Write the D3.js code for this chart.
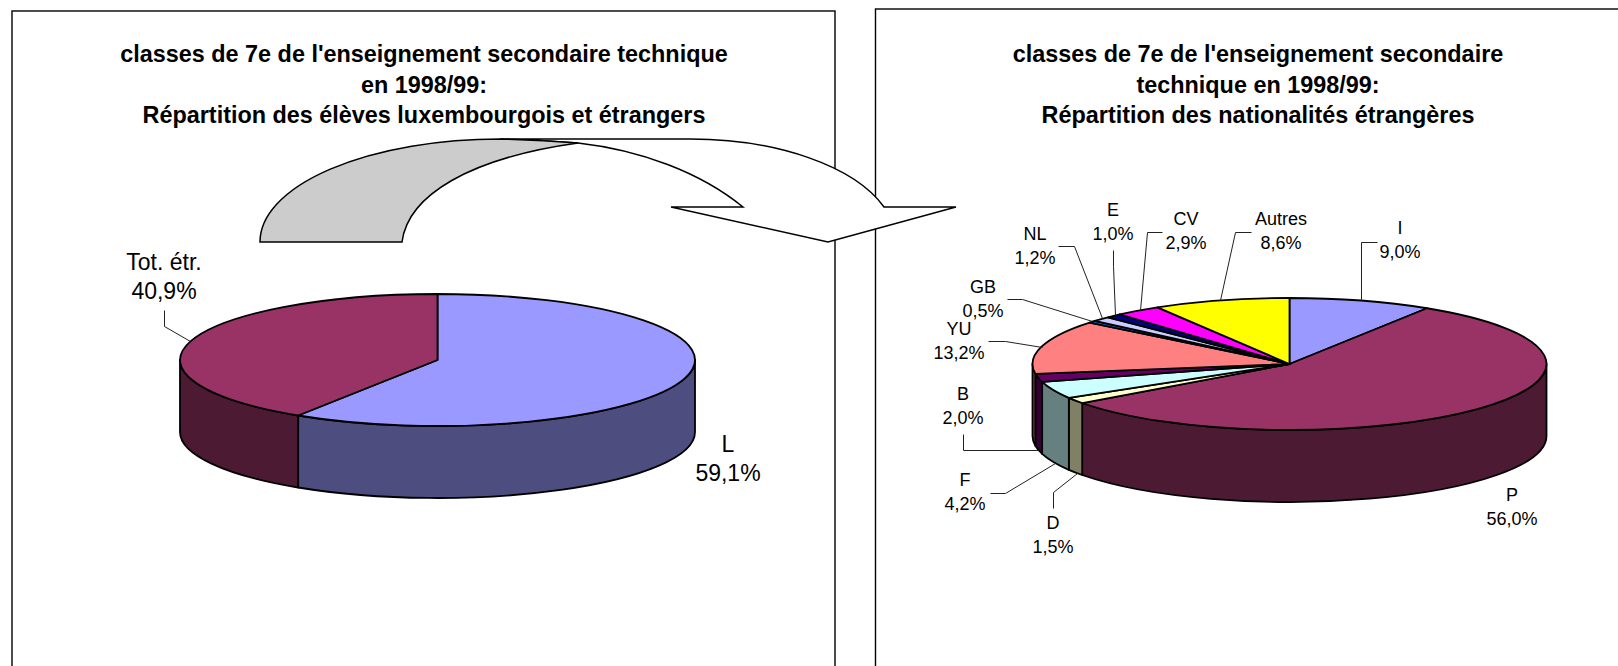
<!DOCTYPE html>
<html lang="fr">
<head>
<meta charset="utf-8">
<title>classes de 7e</title>
<script src="https://cdn.jsdelivr.net/npm/d3@7"></script>
<style>
    html, body { margin: 0; padding: 0; background: #fff; overflow: hidden; }
    svg { display: block; }
    text { font-family: "Liberation Sans", Arial, sans-serif; fill: #000; text-anchor: middle; }
</style>
</head>
<body>
<svg id="chart" width="1618" height="666"></svg>
<script>
// left chart
const leftCategories = ["L", "Tot. étr."];
const leftValues = [59.1, 40.9];
const leftColors = ["#9999ff", "#993366"];
const leftTitle = ["classes de 7e de l'enseignement secondaire technique", "en 1998/99:", "Répartition des élèves luxembourgois et étrangers"];

// right chart
const rightCategories = ["I", "P", "D", "F", "B", "YU", "GB", "NL", "E", "CV", "Autres"];
const rightValues = [9.0, 56.0, 1.5, 4.2, 2.0, 13.2, 0.5, 1.2, 1.0, 2.9, 8.6];
const rightColors = ["#9999ff", "#993366", "#ffffcc", "#ccffff", "#660066", "#ff8080", "#0066cc", "#ccccff", "#000080", "#ff00ff", "#ffff00"];
const rightTitle = ["classes de 7e de l'enseignement secondaire", "technique en 1998/99:", "Répartition des nationalités étrangères"];

// where each label sits and how its leader runs
const leftLayout = {
    "L": { x: 728, y: 452 },
    "Tot. étr.": { x: 164, y: 270, leader: [[164, 310], [164, 326], [190, 341]] }
};
const rightLayout = {
    "I": { x: 1400, y: 234, leader: [[1377, 242], [1361, 242], [1361, 300]] },
    "P": { x: 1512, y: 501 },
    "D": { x: 1053, y: 529, leader: [[1053, 508], [1053, 492], [1077, 473]] },
    "F": { x: 965, y: 486, leader: [[990, 493], [1005, 493], [1055, 463]] },
    "B": { x: 963, y: 400, leader: [[963, 434], [963, 450], [1038, 450]] },
    "YU": { x: 959, y: 335, leader: [[988, 341], [1005, 341], [1042, 347]] },
    "GB": { x: 983, y: 293, leader: [[1007, 299], [1022, 299], [1092, 321]] },
    "NL": { x: 1035, y: 240, leader: [[1058, 246], [1074, 246], [1102, 318]] },
    "E": { x: 1113, y: 216, leader: [[1113, 250], [1113, 266], [1115, 315]] },
    "CV": { x: 1186, y: 225, leader: [[1162, 232], [1147, 232], [1140, 310]] },
    "Autres": { x: 1281, y: 225, leader: [[1251, 232], [1235, 232], [1220, 300]] }
};

const svg = d3.select("#chart");
const percent = v => d3.format(".1f")(v).replace(".", ",") + "%";

function drawFrame(x, y, width) {
    svg.append("rect")
        .attr("x", x).attr("y", y)
        .attr("width", width).attr("height", 800)
        .attr("fill", "#fff")
        .attr("stroke", "#000")
        .attr("stroke-width", 1.4);
}

function drawTitle(lines, cx) {
    svg.append("g").selectAll("text")
        .data(lines)
        .enter()
        .append("text")
        .attr("x", cx)
        .attr("y", (d, i) => 62 + i * 30.5)
        .attr("font-size", 23.4)
        .attr("font-weight", "bold")
        .text(d => d);
}

function drawPie3d(cfg) {
    const { cx, cy, rx, ry, depth, categories, values, colors, layout, fontSize, lineGap } = cfg;
    const pie = d3.pie().sort(null).value(d => d)(values);
    const arc = d3.arc().innerRadius(0).outerRadius(rx);
    const g = svg.append("g");

    // angle is clockwise from twelve o'clock, as in d3.pie
    const px = a => cx + rx * Math.sin(a);
    const py = a => cy - ry * Math.cos(a);

    // side wall, only the part of the rim facing us
    const walls = pie.map((d, i) => ({
        a0: Math.max(d.startAngle, Math.PI / 2),
        a1: Math.min(d.endAngle, Math.PI * 1.5),
        color: d3.rgb(colors[i])
    })).filter(d => d.a1 > d.a0);

    g.selectAll(".wall")
        .data(walls)
        .enter()
        .append("path")
        .attr("class", "wall")
        .attr("fill", d => d3.rgb(d.color.r / 2, d.color.g / 2, d.color.b / 2))
        .attr("stroke", "#000")
        .attr("stroke-width", 1.8)
        .attr("stroke-linejoin", "round")
        .attr("d", d => `M${px(d.a0)},${py(d.a0)}`
            + `A${rx},${ry} 0 0 1 ${px(d.a1)},${py(d.a1)}`
            + `L${px(d.a1)},${py(d.a1) + depth}`
            + `A${rx},${ry} 0 0 0 ${px(d.a0)},${py(d.a0) + depth}Z`);

    // top face, a flat d3.arc squashed into an ellipse
    g.append("g")
        .attr("transform", `translate(${cx},${cy}) scale(1,${ry / rx})`)
        .selectAll(".slice")
        .data(pie)
        .enter()
        .append("path")
        .attr("class", "slice")
        .attr("fill", (d, i) => colors[i])
        .attr("stroke", "#000")
        .attr("stroke-width", 1.8)
        .attr("stroke-linejoin", "round")
        .attr("vector-effect", "non-scaling-stroke")
        .attr("d", arc);

    // leaders
    const leaderLine = d3.line();
    g.selectAll(".leader")
        .data(categories.filter(c => layout[c].leader))
        .enter()
        .append("path")
        .attr("class", "leader")
        .attr("fill", "none")
        .attr("stroke", "#222")
        .attr("stroke-width", 1)
        .attr("d", c => leaderLine(layout[c].leader.map(p => [p[0] + 0.5, p[1] + 0.5])));

    // labels
    const labels = g.selectAll(".label")
        .data(categories)
        .enter()
        .append("text")
        .attr("class", "label")
        .attr("font-size", fontSize);
    labels.append("tspan")
        .attr("x", c => layout[c].x)
        .attr("y", c => layout[c].y)
        .text(c => c);
    labels.append("tspan")
        .attr("x", c => layout[c].x)
        .attr("y", c => layout[c].y + lineGap)
        .text((c, i) => percent(values[i]));
}

// the curved arrow between the two charts, a drawn shape and not data
function drawArrow() {
    svg.append("path")
        .attr("fill", "#fff")
        .attr("stroke", "#000")
        .attr("stroke-width", 1.5)
        .attr("d", "M500,139L690,139A206,103 0 0 1 884,207L956,207L828,242L671,207L743,207"
            + "C700,172 640,150 578,143Q540,140 500,139Z");

    svg.append("path")
        .attr("fill", "#cccccc")
        .attr("stroke", "#000")
        .attr("stroke-width", 1.5)
        .attr("d", "M260,242A240,103 0 0 1 500,139Q540,140 578,143"
            + "C470,158 408,195 402,242Z");
}

drawFrame(12, 11, 823);
drawFrame(875.5, 9, 900);

drawTitle(leftTitle, 424);
drawTitle(rightTitle, 1258);

drawPie3d({
    cx: 437.5, cy: 360, rx: 257.5, ry: 66, depth: 72,
    categories: leftCategories, values: leftValues, colors: leftColors,
    layout: leftLayout, fontSize: 23, lineGap: 29
});

drawPie3d({
    cx: 1289.5, cy: 364, rx: 257, ry: 66, depth: 72,
    categories: rightCategories, values: rightValues, colors: rightColors,
    layout: rightLayout, fontSize: 18, lineGap: 24
});

drawArrow();
</script>
</body>
</html>
